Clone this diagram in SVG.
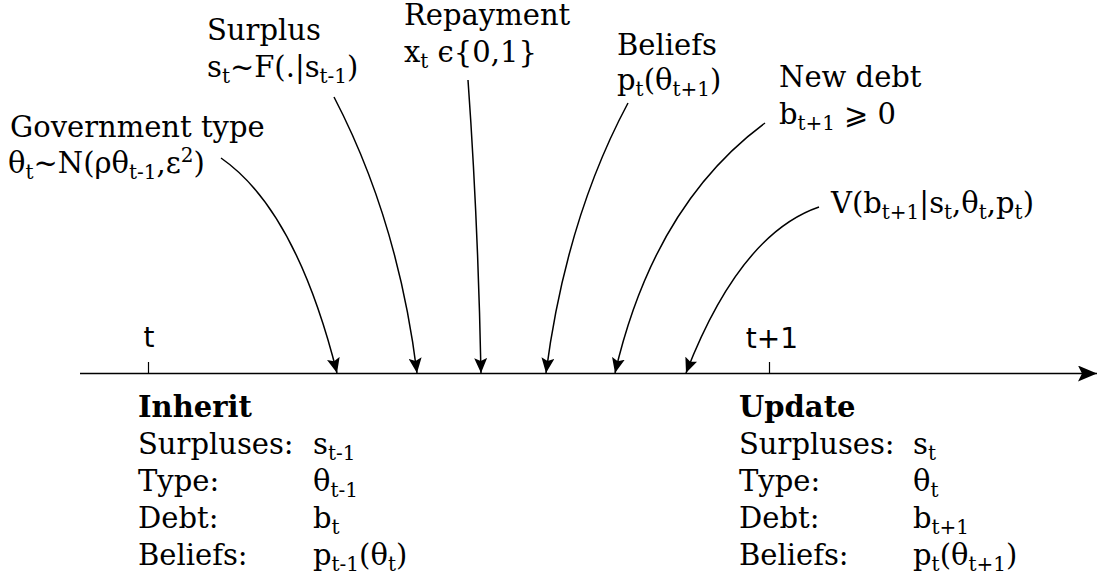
<svg xmlns="http://www.w3.org/2000/svg" width="1098" height="579" viewBox="0 0 1098 579">
<style>
text{font-family:"DejaVu Serif",serif;font-size:29px;fill:#000}
.sb{font-size:20px}
.tick{font-family:"DejaVu Sans",sans-serif;font-size:28px}
.hd{font-weight:bold}
.c{fill:none;stroke:#000;stroke-width:1.5}
</style>
<defs>
<marker id="ah" markerUnits="userSpaceOnUse" markerWidth="16" markerHeight="13" refX="15" refY="6.5" orient="auto" viewBox="0 0 16 13">
<path d="M0,0 L15,6.5 L0,13 L3,6.5 z" fill="#000"/>
</marker>
<marker id="ax" markerUnits="userSpaceOnUse" markerWidth="20" markerHeight="16" refX="19" refY="8" orient="auto" viewBox="0 0 20 16">
<path d="M0,0 L19,8 L0,16 L4,8 z" fill="#000"/>
</marker>
</defs>
<g id="axis">
<line x1="80" y1="373.5" x2="1097" y2="373.5" stroke="#000" stroke-width="1.7" marker-end="url(#ax)"/>
<line x1="148.5" y1="362" x2="148.5" y2="373.5" stroke="#000" stroke-width="1.2"/>
<line x1="769.5" y1="362" x2="769.5" y2="373.5" stroke="#000" stroke-width="1.2"/>
<text class="tick" x="149" y="347" text-anchor="middle">t</text>
<text class="tick" x="772" y="348" text-anchor="middle">t+1</text>
</g>
<g id="connectors">
<path class="c" d="M221,158 Q296,210 337,373" marker-end="url(#ah)"/>
<path class="c" d="M334,97 Q398,220 417,373" marker-end="url(#ah)"/>
<path class="c" d="M468,80 Q478,220 481,373" marker-end="url(#ah)"/>
<path class="c" d="M628,103 Q566,219 546,373" marker-end="url(#ah)"/>
<path class="c" d="M765,123 Q654,205 615,373" marker-end="url(#ah)"/>
<path class="c" d="M819,207 Q740,234 686,373" marker-end="url(#ah)"/>
</g>
<g id="government-type">
<text x="10" y="137">Government type</text>
<text x="8" y="173">θ<tspan class="sb" dy="6">t</tspan><tspan dy="-6">~N(ρθ</tspan><tspan class="sb" dy="6">t-1</tspan><tspan dy="-6">,ε</tspan><tspan class="sb" dy="-11">2</tspan><tspan dy="11">)</tspan></text>
</g>
<g id="surplus">
<text x="207" y="40">Surplus</text>
<text x="207" y="77">s<tspan class="sb" dy="6">t</tspan><tspan dy="-6">~F(.|s</tspan><tspan class="sb" dy="6">t-1</tspan><tspan dy="-6">)</tspan></text>
</g>
<g id="repayment">
<text x="404" y="25">Repayment</text>
<text x="404" y="62">x<tspan class="sb" dy="6">t</tspan><tspan dy="-6"> ϵ{0,1}</tspan></text>
</g>
<g id="beliefs">
<text x="617" y="55">Beliefs</text>
<text x="617" y="90">p<tspan class="sb" dy="6">t</tspan><tspan dy="-6">(θ</tspan><tspan class="sb" dy="6">t+1</tspan><tspan dy="-6">)</tspan></text>
</g>
<g id="new-debt">
<text x="779" y="87">New debt</text>
<text x="779" y="124">b<tspan class="sb" dy="6">t+1</tspan><tspan dy="-6"> ⩾ 0</tspan></text>
</g>
<g id="value">
<text x="831" y="213">V(b<tspan class="sb" dy="6">t+1</tspan><tspan dy="-6">|s</tspan><tspan class="sb" dy="6">t</tspan><tspan dy="-6">,θ</tspan><tspan class="sb" dy="6">t</tspan><tspan dy="-6">,p</tspan><tspan class="sb" dy="6">t</tspan><tspan dy="-6">)</tspan></text>
</g>
<g id="inherit">
<text class="hd" x="138" y="417">Inherit</text>
<text x="138" y="454">Surpluses:</text>
<text x="138" y="491">Type:</text>
<text x="138" y="528">Debt:</text>
<text x="138" y="565">Beliefs:</text>
<text x="313" y="454">s<tspan class="sb" dy="6">t-1</tspan></text>
<text x="313" y="491">θ<tspan class="sb" dy="6">t-1</tspan></text>
<text x="313" y="528">b<tspan class="sb" dy="6">t</tspan></text>
<text x="313" y="565">p<tspan class="sb" dy="6">t-1</tspan><tspan dy="-6">(θ</tspan><tspan class="sb" dy="6">t</tspan><tspan dy="-6">)</tspan></text>
</g>
<g id="update">
<text class="hd" x="739" y="417">Update</text>
<text x="739" y="454">Surpluses:</text>
<text x="739" y="491">Type:</text>
<text x="739" y="528">Debt:</text>
<text x="739" y="565">Beliefs:</text>
<text x="913" y="454">s<tspan class="sb" dy="6">t</tspan></text>
<text x="913" y="491">θ<tspan class="sb" dy="6">t</tspan></text>
<text x="913" y="528">b<tspan class="sb" dy="6">t+1</tspan></text>
<text x="913" y="565">p<tspan class="sb" dy="6">t</tspan><tspan dy="-6">(θ</tspan><tspan class="sb" dy="6">t+1</tspan><tspan dy="-6">)</tspan></text>
</g>
</svg>
